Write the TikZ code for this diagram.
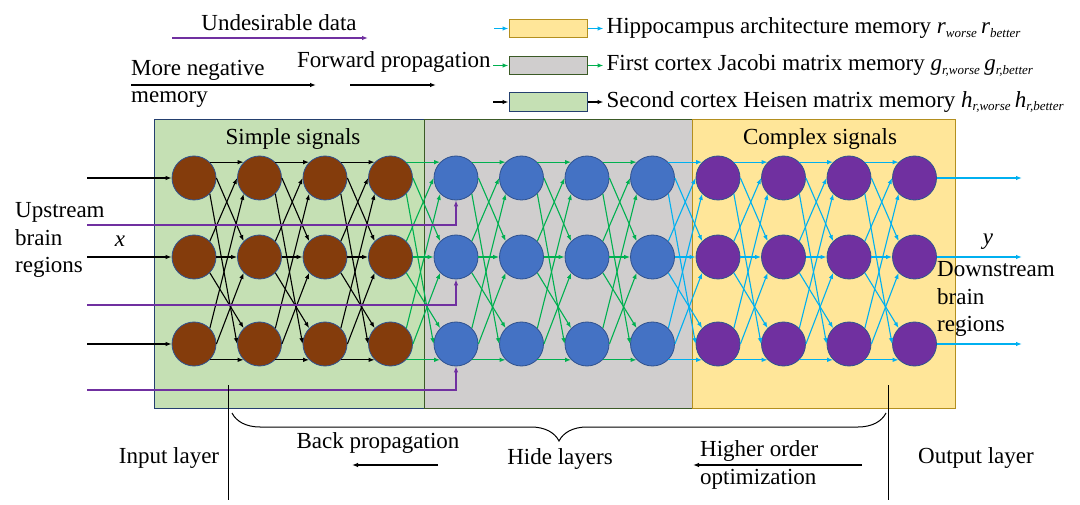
\documentclass[tikz,border=0pt]{standalone}
\usepackage{fontspec}
\setmainfont{Liberation Serif}
\usetikzlibrary{positioning,arrows.meta,decorations.pathreplacing}

\definecolor{brn}{HTML}{843C0C}
\definecolor{blu}{HTML}{4472C4}
\definecolor{ppl}{HTML}{7030A0}
\definecolor{nborder}{HTML}{2F528F}
\definecolor{grn}{HTML}{00B050}
\definecolor{cyn}{HTML}{00B0F0}
\definecolor{pgreen}{HTML}{C5E0B4}
\definecolor{pgreenb}{HTML}{243F6F}
\definecolor{pgray}{HTML}{D0CECE}
\definecolor{pgrayb}{HTML}{3B5A26}
\definecolor{pyellow}{HTML}{FFE699}
\definecolor{pyellowb}{HTML}{B38F1F}

\newcommand{\lowsub}[1]{\textsubscript{\fontsize{13}{15}\selectfont #1}}

\begin{document}
\begin{tikzpicture}[x=1pt, y=-1pt, >={Latex[length=6pt,width=4.5pt]}, font=\fontsize{23}{27.5}\selectfont,
  neuron/.style={circle, draw=nborder, line width=0.8pt, minimum size=44pt, inner sep=0pt},
  link/.style={->, line width=1.1pt},
  txt/.style={inner sep=0pt, anchor=west, align=left},
  mem/.style={draw, line width=1pt, minimum width=78pt, minimum height=18.5pt, inner sep=0pt}]

  \useasboundingbox (0,0) rectangle (1080,505);

  % layer panels
  \draw[fill=pgreen, draw=pgreenb, line width=1pt] (154,120) rectangle (424,408);
  \draw[fill=pgray, draw=pgrayb, line width=1pt] (424,120) rectangle (692,408);
  \draw[fill=pyellow, draw=pyellowb, line width=1pt] (692,120) rectangle (955,408);
  \node (simple) at (293,139) {Simple signals};
  \node (complex) at (820,139) {Complex signals};

  % neurons
  \foreach \g/\col in {0/brn,1/blu,2/ppl}
    \foreach \k in {1,...,4}
      \foreach \r/\ry in {0/178,1/257,2/344} {
        \pgfmathtruncatemacro\c{4*\g+\k}
        \node[neuron, fill=\col] (n\c r\r) at ({194+65.5*(\c-1)},\ry) {};
      }

  % connections between layers
  \foreach \g/\col in {0/black,1/grn,2/cyn}
    \foreach \k in {1,...,4} {
      \pgfmathtruncatemacro\d{4*\g+\k}
      \pgfmathtruncatemacro\c{\d-1}
      \ifnum\d>1
        \foreach \i/\j/\sa/\ta in {0/0/45/135,1/0/45/180,2/0/45/225,0/1/0/135,1/1/0/180,2/1/0/225,0/2/315/180,1/2/315/135,2/2/315/225}
          \draw[link, \col] (n\c r\i.\sa) -- (n\d r\j.\ta);
      \fi
    }

  % inputs and outputs
  \foreach \r/\ry in {0/178,1/257,2/344} {
    \coordinate (in\r) at (87,\ry);
    \coordinate (out\r) at (1022,\ry);
    \draw[link] (in\r) -- (n1r\r.west);
    \draw[link, cyn] (n12r\r.east) -- (out\r);
  }
  % undesirable data
  \foreach \r/\py in {0/225,1/305,2/390} {
    \coordinate (u\r) at (87,\py);
    \draw[link, ppl] (u\r) -| (n5r\r.south);
  }

  \node[txt] (up) at (15,240) {Upstream\\brain\\regions};
  \node (x) at (120,241) {\itshape x};
  \node (y) at (988,242) {\itshape y};
  \node[txt] (down) at (937,299) {Downstream\\brain\\regions};

  % top left notes
  \node (ud) at (279,23) {Undesirable data};
  \coordinate (uda) at (172,38);
  \coordinate (udb) at (368,38);
  \draw[link, ppl] (uda) -- (udb);
  \node[txt] (neg) at (131,84) {More negative\\memory};
  \coordinate (nega) at (131,85);
  \coordinate (negb) at (316,85);
  \draw[link] (nega) -- (negb);
  \node[txt] (fwd) at (297,62) {Forward propagation};
  \coordinate (fwda) at (350,85);
  \coordinate (fwdb) at (436,85);
  \draw[link] (fwda) -- (fwdb);

  % legend
  \node[mem, fill=pyellow, draw=pyellowb] (mh) at (548,28.5) {};
  \node[mem, fill=pgray, draw=pgrayb] (mg) at (548,65.5) {};
  \node[mem, fill=pgreen, draw=pgreenb] (ms) at (548,102) {};
  \node[txt, right=19pt of mh] (th) {Hippocampus architecture memory {\itshape r\lowsub{worse}\,r\lowsub{better}}};
  \node[txt, right=19pt of mg] (tg) {First cortex Jacobi matrix memory {\itshape g\lowsub{r,worse}\,g\lowsub{r,better}}};
  \node[txt, right=19pt of ms] (ts) {Second cortex Heisen matrix memory {\itshape h\lowsub{r,worse}\,h\lowsub{r,better}}};
  \coordinate (ah) at (494,28.5);
  \coordinate (ag) at (493,65.5);
  \coordinate (as) at (493,102);
  \draw[link, cyn] (ah) -- (mh);
  \draw[link, grn] (ag) -- (mg);
  \draw[link] (as) -- (ms);
  \draw[link, cyn, shorten >=3pt] (mh.east) -- (mh.east -| th.west);
  \draw[link, grn, shorten >=3pt] (mg.east) -- (mg.east -| tg.west);
  \draw[link, shorten >=3pt] (ms.east) -- (ms.east -| ts.west);

  % bottom notes
  \coordinate (lina) at (228,385);
  \coordinate (linb) at (228,500);
  \coordinate (louta) at (888,385);
  \coordinate (loutb) at (888,500);
  \draw[line width=1pt] (lina) -- (linb);
  \draw[line width=1pt] (louta) -- (loutb);
  \coordinate (bra) at (232,413);
  \coordinate (brb) at (886,413);
  \draw[decorate, decoration={brace, amplitude=28pt, mirror}, line width=1pt] (bra) -- (brb);
  \node (inl) at (169,458) {Input layer};
  \node (bp) at (378,443) {Back propagation};
  \coordinate (bpa) at (438,465);
  \coordinate (bpb) at (352,465);
  \draw[link] (bpa) -- (bpb);
  \node (hl) at (560,459) {Hide layers};
  \node[txt] (ho) at (700,465) {Higher order\\optimization};
  \coordinate (hoa) at (862,465);
  \coordinate (hob) at (693,465);
  \draw[link] (hoa) -- (hob);
  \node[txt] (ol) at (918,458) {Output layer};
\end{tikzpicture}
\end{document}
